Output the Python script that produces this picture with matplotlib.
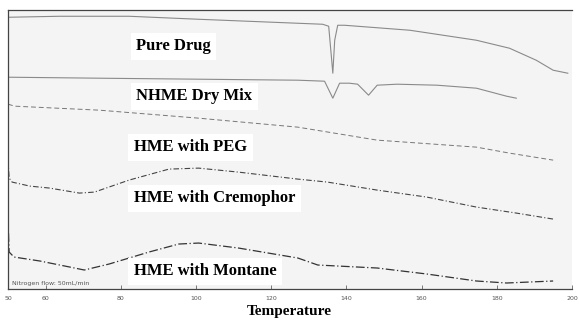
import matplotlib
matplotlib.use("Agg")
import matplotlib.pyplot as plt

# DSC thermograms (temperature in deg C, signal in arbitrary units)
pure_T = [50, 63.7, 82.2, 100.7, 127.1, 133.7, 135.3, 136.1, 136.4, 136.9, 137.7, 139.5,
          156.9, 174.6, 183.4, 190.5, 195.0, 198.9]
pure_h = [272, 273, 273, 270, 266, 265, 263, 229, 216, 249, 264, 264,
          259, 249, 241, 229, 219, 216]

mix_T = [50, 74.3, 100.7, 127.1, 134.2, 136.4, 138.2, 140.8, 143.0, 145.9, 148.2, 153.5,
         164.1, 174.6, 182.6, 185.2]
mix_h = [212, 211, 210, 209, 208, 191, 206, 206, 205, 194, 204, 205,
         204, 201, 193, 191]

peg_T = [50, 51.8, 74.3, 100.7, 127.1, 148.2, 174.6, 183.4, 195.0]
peg_h = [185, 183, 179, 171, 162, 149, 142, 136, 129]

crem_T = [50, 50.3, 51.1, 55.8, 61.1, 69.0, 73.0, 82.2, 92.8, 100.7, 111.3, 127.1,
          135.0, 148.2, 161.4, 174.6, 185.2, 195.0]
crem_h = [129, 111, 107, 103, 101, 96, 97, 109, 120, 121, 117, 110,
          107, 99, 92, 82, 76, 70]

mont_T = [50, 50.3, 51.6, 58.5, 66.4, 70.3, 76.9, 87.5, 95.4, 100.7, 111.3, 127.1,
          132.4, 148.2, 161.4, 174.6, 182.6, 195.0]
mont_h = [71, 37, 32, 28, 22, 19, 25, 37, 45, 46, 41, 31,
          24, 21, 15, 8, 6, 8]

labels = ["Pure Drug", "NHME Dry Mix", "HME with PEG", "HME with Cremophor", "HME with Montane"]
label_T = [84.1, 84.1, 83.5, 83.5, 83.5]
label_h = [243, 193, 142, 91, 18]

ticks = [50, 60, 80, 100, 120, 140, 160, 180, 200]

fig = plt.figure(figsize=(5.79, 3.26), dpi=100)
ax = fig.add_axes([0.0138, 0.1135, 0.974, 0.855])
ax.set_facecolor("#f4f4f4")

ax.plot(pure_T, pure_h, color="#8a8a8a", linewidth=0.8)
ax.plot(mix_T, mix_h, color="#8a8a8a", linewidth=0.8)
ax.plot(peg_T, peg_h, color="#777777", linewidth=0.7, linestyle=(0, (5, 3)))
ax.plot(crem_T, crem_h, color="#444444", linewidth=0.8, linestyle=(0, (5, 2, 1, 2)))
ax.plot(mont_T, mont_h, color="#333333", linewidth=0.9, linestyle=(0, (7, 2, 1, 2)))

for name, t, h in zip(labels, label_T, label_h):
    ax.text(t, h, name, fontsize=12, fontweight="bold", family="Liberation Serif",
            va="center", ha="left",
            bbox=dict(facecolor="white", edgecolor="none", pad=4))

ax.text(51, 6, "Nitrogen flow: 50mL/min", fontsize=4.5, color="#555555", va="center")

ax.set_xlim(50, 200)
ax.set_ylim(0, 279)
ax.set_xticks(ticks)
ax.set_xticklabels([str(t) for t in ticks])
ax.tick_params(axis="x", direction="in", length=3, width=0.6, labelsize=4.5,
               labelcolor="#555555", color="#666666", pad=5)
ax.set_yticks([])
ax.spines["right"].set_visible(False)
for s in ["left", "top", "bottom"]:
    ax.spines[s].set_color("#444444")
    ax.spines[s].set_linewidth(0.9)

fig.text(0.5, 0.043, "Temperature", ha="center", va="center", fontsize=11,
         fontweight="bold", family="Liberation Serif")

fig.savefig("out.png", dpi=100)
